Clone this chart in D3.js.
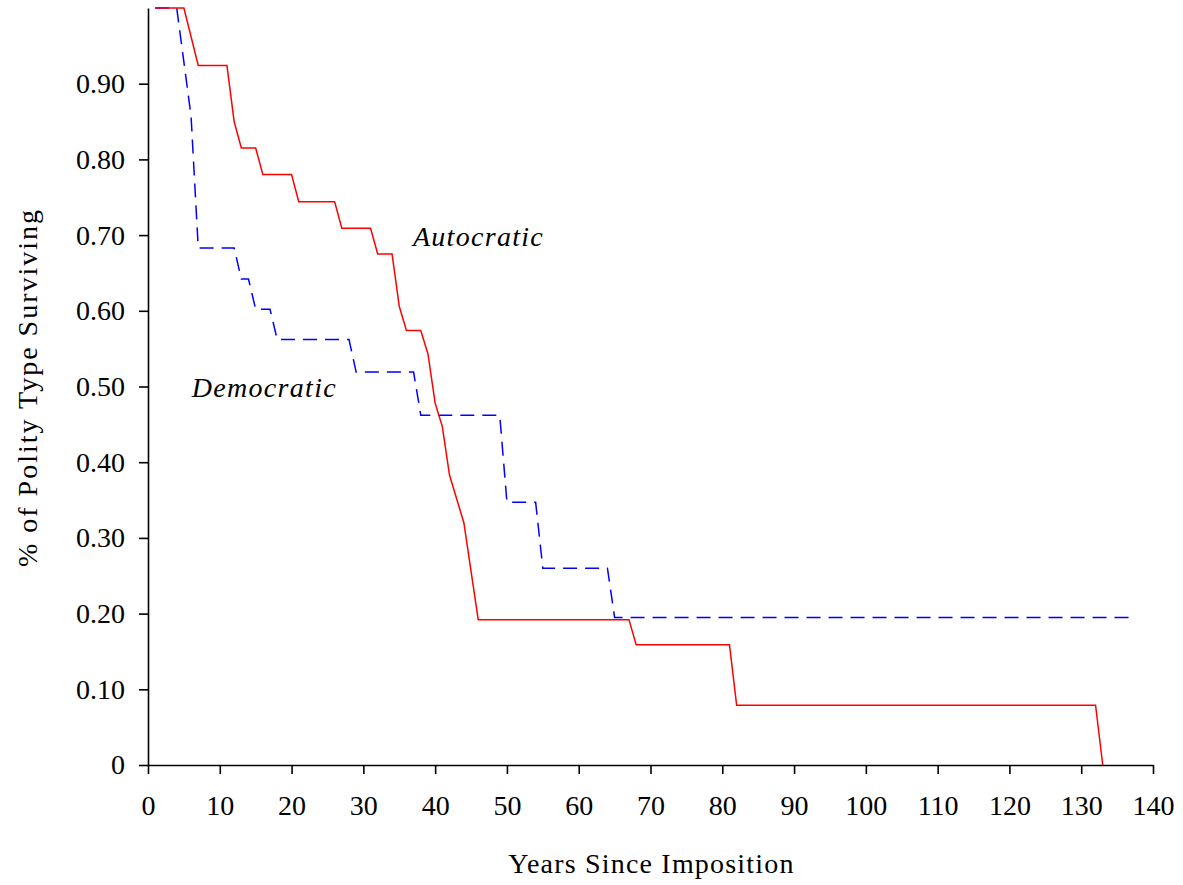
<!DOCTYPE html>
<html>
<head>
<meta charset="utf-8">
<script src="https://cdn.jsdelivr.net/npm/d3@7"></script>
<style>
	body { margin: 0; background: #fff; }
	svg { display: block; font-family: "Liberation Serif", "Times New Roman", serif; }
</style>
</head>
<body>
<div id="chart"></div>
<script>
// years and survival share
const autoYears = [1, 5, 7, 11, 12, 13, 15, 16, 20, 21, 26, 27, 31, 32, 34, 35, 36, 38, 39, 40, 41, 42, 44, 46, 67, 68, 81, 82, 132, 133]
const autoValues = [1, 1, 0.924, 0.924, 0.850, 0.815, 0.815, 0.780, 0.780, 0.744, 0.744, 0.709, 0.709, 0.675, 0.675, 0.606, 0.574, 0.574, 0.543, 0.478, 0.447, 0.383, 0.320, 0.192, 0.192, 0.159, 0.159, 0.079, 0.079, 0]

const demoYears = [1, 4, 6, 7, 12, 13, 14, 15, 17, 18, 28, 29, 37, 38, 49, 50, 54, 55, 64, 65, 137]
const demoValues = [1, 1, 0.857, 0.683, 0.683, 0.642, 0.642, 0.602, 0.602, 0.562, 0.562, 0.519, 0.519, 0.462, 0.462, 0.347, 0.347, 0.260, 0.260, 0.195, 0.195]

const xTicks = [0, 10, 20, 30, 40, 50, 60, 70, 80, 90, 100, 110, 120, 130, 140]
const yTicks = [0, 0.1, 0.2, 0.3, 0.4, 0.5, 0.6, 0.7, 0.8, 0.9]

const dimensions = { width: 1183, height: 885 }
const margin = { top: 8, right: 30, bottom: 120, left: 148 }

const x = d3.scaleLinear()
	.domain([0, 140])
	.range([margin.left, dimensions.width - margin.right])

const y = d3.scaleLinear()
	.domain([0, 1])
	.range([dimensions.height - margin.bottom, margin.top])

const svg = d3.select('#chart')
	.append('svg')
		.attr('width', dimensions.width)
		.attr('height', dimensions.height)

const line = d3.line()
	.x(d => x(d[0]))
	.y(d => y(d[1]))

const autoData = autoYears.map((t, i) => [t, autoValues[i]])
const demoData = demoYears.map((t, i) => [t, demoValues[i]])

svg.append('path')
	.datum(demoData)
	.attr('fill', 'none')
	.attr('stroke', '#0000ff')
	.attr('stroke-width', 1.5)
	.attr('stroke-dasharray', '14,8')
	.attr('d', line)

svg.append('path')
	.datum(autoData)
	.attr('fill', 'none')
	.attr('stroke', '#ff0000')
	.attr('stroke-width', 1.5)
	.attr('d', line)

// axes
const gx = svg.append('g')
	.attr('transform', `translate(0,${dimensions.height - margin.bottom})`)
	.call(d3.axisBottom(x).tickValues(xTicks).tickSize(9).tickPadding(21).tickSizeOuter(0))

const gy = svg.append('g')
	.attr('transform', `translate(${margin.left},0)`)
	.call(d3.axisLeft(y).tickValues(yTicks).tickSize(9).tickPadding(14).tickSizeOuter(0)
		.tickFormat(d => d === 0 ? '0' : d3.format('.2f')(d)))

svg.selectAll('.domain, .tick line')
	.attr('stroke', '#000')
	.attr('stroke-width', 1.6)

svg.selectAll('.tick text')
	.attr('fill', '#000')
	.style('font-size', '28px')
	.style('font-family', '"Liberation Serif", serif')

// axis titles
svg.append('text')
	.attr('x', (margin.left + dimensions.width - margin.right) / 2 + 1)
	.attr('y', 873)
	.attr('text-anchor', 'middle')
	.style('font-size', '28px')
	.style('letter-spacing', '1.2px')
	.text('Years Since Imposition')

svg.append('text')
	.attr('transform', `translate(37,${y(0.5) + 1}) rotate(-90)`)
	.attr('text-anchor', 'middle')
	.style('font-size', '28px')
	.style('letter-spacing', '2px')
	.text('% of Polity Type Surviving')

// series labels
svg.append('text')
	.attr('x', x(36.9))
	.attr('y', y(0.685))
	.style('font-size', '28px')
	.style('font-style', 'italic')
	.style('letter-spacing', '1.3px')
	.text('Autocratic')

svg.append('text')
	.attr('x', x(6.1))
	.attr('y', y(0.486))
	.style('font-size', '28px')
	.style('font-style', 'italic')
	.style('letter-spacing', '1.3px')
	.text('Democratic')
</script>
</body>
</html>
